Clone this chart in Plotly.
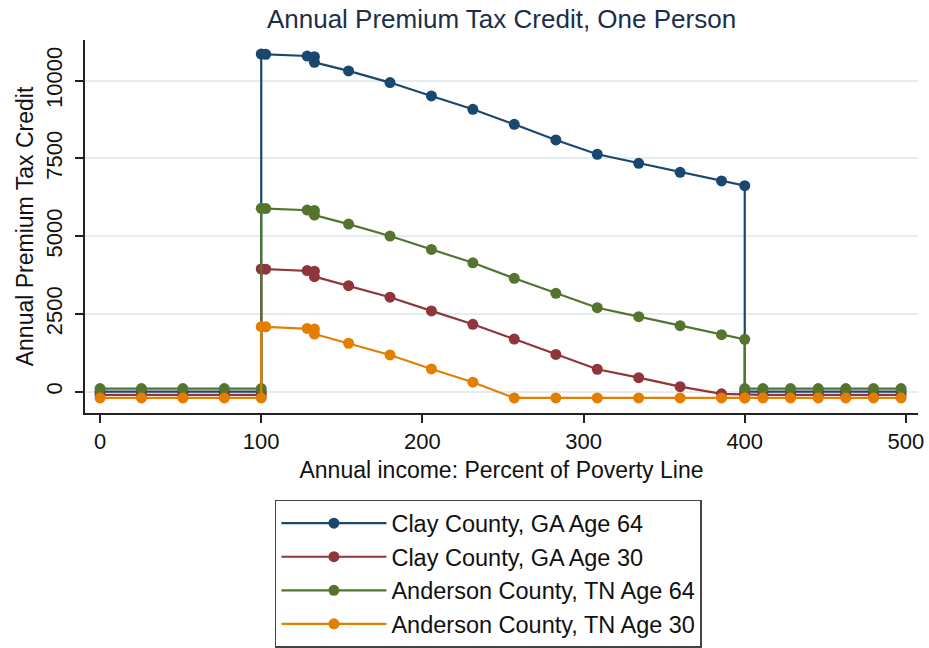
import plotly.graph_objects as go

# Income as percent of poverty line (x positions of observations)
income_pct = [0, 25.7, 51.4, 77.1, 100, 100, 102.8, 128.5, 133, 133, 154.2, 179.9,
              205.6, 231.3, 257.0, 282.8, 308.5, 334.2, 359.9, 385.6, 400, 400,
              411.3, 428.4, 445.6, 462.7, 479.9, 497.0]

clay_64 = [0, 0, 0, 0, 0, 10855, 10850, 10794, 10772, 10590, 10315, 9940,
           9510, 9080, 8597, 8095, 7635, 7345, 7055, 6778, 6624, 0,
           0, 0, 0, 0, 0, 0]

clay_30 = [-100, -100, -100, -100, -100, 3945, 3940, 3895, 3875, 3700, 3410, 3038,
           2598, 2168, 1692, 1200, 722, 450, 162, -70, -100, -100,
           -100, -100, -100, -100, -100, -100]

anderson_64 = [100, 100, 100, 100, 100, 5897, 5890, 5840, 5828, 5680, 5390, 5005,
               4575, 4145, 3645, 3162, 2700, 2412, 2122, 1833, 1685, 100,
               100, 100, 100, 100, 100, 100]

anderson_30 = [-200, -200, -200, -200, -200, 2090, 2085, 2035, 2015, 1855, 1558, 1182,
               732, 305, -200, -200, -200, -200, -200, -200, -200, -200,
               -200, -200, -200, -200, -200, -200]

series_names = ["Clay County, GA Age 64", "Clay County, GA Age 30",
                "Anderson County, TN Age 64", "Anderson County, TN Age 30"]
series_values = [clay_64, clay_30, anderson_64, anderson_30]
series_colors = ["#1a476f", "#90353b", "#55752f", "#e37e00"]

x_ticks = [0, 100, 200, 300, 400, 500]
y_ticks = [0, 2500, 5000, 7500, 10000]

FONT = "Liberation Sans, Arial, sans-serif"

fig = go.Figure()
for name, vals, col in zip(series_names, series_values, series_colors):
    fig.add_trace(go.Scatter(
        x=income_pct, y=vals, name=name, mode="lines+markers",
        line=dict(color=col, width=2.2),
        marker=dict(color=col, size=11, line=dict(width=0)),
    ))

fig.update_layout(
    width=929, height=648,
    margin=dict(l=85, r=11, t=40, b=235, autoexpand=False),
    paper_bgcolor="white", plot_bgcolor="white",
    font=dict(family=FONT, color="#111111"),
    title=dict(text="Annual Premium Tax Credit, One Person",
               x=0.5, xref="paper", xanchor="center",
               y=1 - 19 / 648, yref="container", yanchor="middle",
               font=dict(size=26, color="#1c2e4a", family=FONT)),
    showlegend=True,
    legend=dict(x=0.228, y=-0.233, xanchor="left", yanchor="top",
                bordercolor="#444444", borderwidth=1.5, bgcolor="white",
                font=dict(size=23.5, color="#111111", family=FONT),
                itemwidth=105, tracegroupgap=0),
)

fig.update_xaxes(
    automargin=False,
    range=[-9.34, 507.5], tickvals=x_ticks, ticktext=[str(v) for v in x_ticks],
    showgrid=False, zeroline=False, showline=True, linecolor="#222222", linewidth=1.5,
    ticks="outside", ticklen=8, tickwidth=1.5, tickcolor="#222222",
    tickfont=dict(size=22), ticklabelstandoff=0,
    title=dict(text="Annual income: Percent of Poverty Line", font=dict(size=23), standoff=9),
)
fig.update_yaxes(
    automargin=False,
    range=[-685, 11309], tickvals=y_ticks, ticktext=[str(v) for v in y_ticks],
    tickangle=-90,
    showgrid=True, gridcolor="#e4edf0", gridwidth=1.5,
    zeroline=False, showline=True, linecolor="#222222", linewidth=1.5,
    ticks="outside", ticklen=8, tickwidth=1.5, tickcolor="#222222",
    tickfont=dict(size=22), ticklabelstandoff=4,
    title=dict(text="Annual Premium Tax Credit", font=dict(size=23), standoff=2),
)

fig.write_html("out.html",
               config={"displayModeBar": False},
               post_script="document.body.style.margin='0';document.body.style.overflow='hidden';")
